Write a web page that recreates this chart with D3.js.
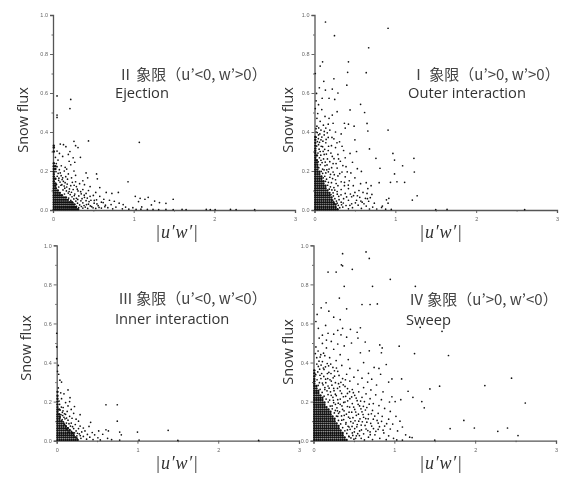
<!DOCTYPE html>
<html><head><meta charset="utf-8">
<script src="https://cdn.jsdelivr.net/npm/d3@7"></script>
<style>html,body{margin:0;background:#fff}svg{display:block;filter:blur(.4px)}</style></head>
<body><svg id="c" width="563" height="478"></svg>
<script>
const xTicks=[0,1,2,3];
const xMinor=[0.5,1.5,2.5];
const yTicks=[0,0.2,0.4,0.6,0.8,1.0];
const yMinor=[0.1,0.3,0.5,0.7,0.9];
const yLabel="Snow flux";
const xLabel="|u′w′|";

// Solid black core of each cloud, read row by row: [snow flux, [|u'w'| values]]
const q2Core=[
[.004,[.01,.035,.06,.085,.11,.135,.16,.185,.21,.235,.26,.285,.31]],
[.016,[.01,.035,.06,.085,.11,.135,.16,.185,.21,.235,.26,.285]],
[.028,[.01,.035,.06,.085,.11,.135,.16,.185,.21,.235,.26]],
[.04,[.01,.035,.06,.085,.11,.135,.16,.185,.21,.235]],
[.052,[.01,.035,.06,.085,.11,.135,.16,.185]],
[.064,[.01,.035,.06,.085,.11,.135,.16]],
[.076,[.01,.035,.06,.085,.11]],
[.088,[.01,.035,.06,.085]],
[.1,[.01,.035,.06]],
[.112,[.01,.035]],
[.124,[.01,.03]],
[.136,[.01,.03]],[.148,[.01]],[.16,[.01,.03]],[.172,[.01]],[.184,[.01]],[.196,[.01]],[.21,[.01,.03]],[.225,[.01,.03]],[.24,[.01]],[.3,[.01]],[.32,[.01]],[.33,[.01]]
];
const q2Scatter=[[.05,.585],[.05,.487],[.05,.475],[.22,.567],[.21,.52],[.44,.354],[.26,.352],[1.07,.347],[.93,.145],[.66,.09],[.73,.085],[.81,.09],[1.02,.07],[1.08,.06],[1.18,.065],[1.14,.055],[1.26,.046],[1.32,.038],[1.4,.034],[1.49,.055],[1.06,.043],[1.22,.026],[.99,.012],[1.1,.016],
[.09,.338],[.13,.335],[.16,.325],[.28,.33],[.31,.32],[.21,.3],[.05,.302],[.08,.29],[.12,.275],[.03,.27],[.19,.285],[.25,.268],[.34,.27],[.2,.25],[.27,.245],[.22,.232],[.05,.222],[.17,.21],[.09,.19],[.14,.2],[.19,.185],[.26,.2],[.28,.178],[.41,.19],[.54,.185],[.43,.165],[.55,.16],[.37,.15],[.39,.13],[.46,.12],[.58,.115],[.53,.09],[.18,.158],[.23,.165],[.12,.165],[.28,.145],[.07,.152],[.15,.14],[.33,.135],[.22,.125],[.11,.13],[.29,.12],[.17,.118],[.37,.105],[.44,.1],[.25,.105],[.31,.098],[.2,.095],[.5,.075],[.41,.085],[.35,.083],[.27,.082],[.46,.07],[.39,.065],[.32,.072],[.58,.07],[.63,.055],[.54,.052],[.47,.05],[.41,.048],[.36,.058],[.29,.06],[.7,.05],[.76,.045],[.6,.04],[.51,.035],[.44,.03],[.37,.037],[.82,.035],[.87,.028],[.72,.028],[.65,.025],[.56,.022],[.48,.017],[.4,.015],[.9,.015],[.78,.015],[.68,.012],[.6,.01],[.53,.008],[.43,.008],[.37,.01],[.74,.006],[.86,.006],[.94,.004],[1.03,.003],[1.09,.004],[1.17,.003],[1.24,.003],[1.31,.002],[1.4,.003],[1.49,.002],[1.6,.003],[1.65,.002],[1.9,.003],[1.95,.002],[2.01,.002],[2.2,.003],[2.27,.002],[2.5,.002]];
const q2Fringe=[[.043,.131],[.071,.118],[.098,.127],[.124,.103],[.146,.112],[.087,.143],[.113,.156],[.052,.173],[.166,.098],[.189,.087],[.142,.082],[.213,.079],[.236,.068],[.194,.061],[.258,.057],[.221,.049],[.283,.046],[.247,.038],[.304,.035],[.331,.026],[.272,.029],[.352,.018],[.318,.012],[.291,.019],[.385,.023],[.346,.047],[.307,.054],[.264,.074],[.229,.091],[.176,.133],[.204,.108],[.139,.123],[.064,.188],[.037,.197],[.079,.207],[.101,.176],[.129,.147],[.158,.171],[.041,.238],[.062,.256],[.103,.227],[.151,.219],[.073,.163],[.24,.142],[.262,.127],[.301,.107],[.343,.094],[.387,.076],[.425,.061],[.447,.043],[.415,.028],[.463,.021],[.512,.049],[.545,.031],[.497,.011],[.571,.013],[.622,.038],[.643,.017]];

const q1Core=[
[.004,[.01,.035,.06,.085,.11,.135,.16,.185,.21,.235,.26,.285]],
[.016,[.01,.035,.06,.085,.11,.135,.16,.185,.21,.235,.26]],
[.028,[.01,.035,.06,.085,.11,.135,.16,.185,.21,.235,.26]],
[.04,[.01,.035,.06,.085,.11,.135,.16,.185,.21,.235]],
[.052,[.01,.035,.06,.085,.11,.135,.16,.185,.21]],
[.064,[.01,.035,.06,.085,.11,.135,.16,.185,.21]],
[.076,[.01,.035,.06,.085,.11,.135,.16,.185]],
[.088,[.01,.035,.06,.085,.11,.135,.16,.185]],
[.1,[.01,.035,.06,.085,.11,.135,.16]],
[.112,[.01,.035,.06,.085,.11,.135]],
[.124,[.01,.035,.06,.085,.11,.135]],
[.136,[.01,.035,.06,.085,.11]],
[.148,[.01,.035,.06,.085,.11]],
[.16,[.01,.035,.06,.085]],
[.172,[.01,.035,.06,.085]],
[.184,[.01,.035,.06]],
[.196,[.01,.035,.06]],
[.208,[.01,.035]],[.22,[.01,.035]],[.232,[.01,.035]],[.244,[.01,.03]],[.256,[.01,.03]],[.268,[.01]],[.28,[.01,.03]],[.292,[.01]],[.304,[.01]],[.316,[.01]],[.33,[.01]],[.345,[.01]],[.36,[.01]],[.375,[.01]]
];
const q1Scatter=[[.136,.964],[.247,.894],[.91,.932],[.67,.832],[.1,.76],[.42,.76],[.07,.738],[.41,.706],[.64,.704],[.01,.7],[.24,.673],[.115,.66],[.4,.64],[.06,.627],[.22,.62],[.135,.615],[.29,.6],[.025,.598],[.095,.573],[.18,.573],[.25,.567],[.57,.542],[.44,.513],[.62,.5],[.28,.504],[.22,.487],[.65,.444],[.66,.405],[.91,.41],[.68,.313],[.97,.29],[.76,.265],[1.23,.265],[.99,.256],[1.09,.227],[.81,.214],[1.235,.195],[.99,.185],[.8,.14],[.94,.142],[1.02,.145],[1.115,.142],[1.27,.073],[1.21,.051],[.92,.06],[.84,.02],
[.02,.56],[.05,.54],[.01,.52],[.09,.515],[.04,.495],[.13,.48],[.18,.47],[.03,.47],[.07,.455],[.23,.445],[.17,.44],[.11,.435],[.37,.445],[.42,.44],[.49,.43],[.38,.42],[.03,.43],[.14,.42],[.08,.41],[.19,.41],[.26,.4],[.02,.4],[.33,.39],[.12,.385],[.05,.385],[.17,.372],[.24,.365],[.08,.36],[.31,.35],[.14,.345],[.05,.335],[.21,.33],[.1,.325],[.26,.32],[.5,.36],[.52,.3],[.36,.305],[.17,.305],[.07,.3],[.44,.29],[.29,.285],[.12,.285],[.22,.275],[.38,.268],[.16,.262],[.32,.25],[.08,.255],[.23,.238],[.47,.245],[.13,.228],[.39,.222],[.28,.215],[.18,.21],[.53,.212],[.58,.198],[.1,.21],[.34,.195],[.45,.19],[.23,.195],[.14,.19],[.29,.175],[.19,.168],[.38,.17],[.5,.165],[.26,.155],[.43,.15],[.33,.145],[.21,.14],[.64,.14],[.57,.135],[.48,.125],[.37,.125],[.29,.125],[.7,.125],[.66,.11],[.24,.115],[.42,.11],[.33,.105],[.55,.1],[.6,.09],[.5,.09],[.28,.095],[.38,.085],[.65,.085],[.23,.088],[.71,.08],[.3,.07],[.46,.068],[.56,.065],[.63,.06],[.69,.063],[.36,.058],[.42,.05],[.52,.05],[.89,.052],[.67,.045],[.59,.04],[.33,.04],[.28,.035],[.46,.032],[.74,.035],[.91,.035],[.54,.025],[.39,.023],[.64,.02],[.72,.015],[.83,.013],[.47,.012],[.35,.015],[.58,.008],[.42,.006],[.68,.005],[.77,.005],[.88,.004],[.95,.003],[1.5,.002],[1.64,.003],[2.6,.002]];
const q1Fringe=[[.053,.217],[.072,.232],[.046,.247],[.061,.268],[.094,.243],[.078,.281],[.043,.292],[.112,.262],[.057,.312],[.028,.328],[.083,.327],[.036,.351],[.062,.347],[.107,.301],[.126,.311],[.021,.373],[.048,.366],[.091,.374],[.034,.397],[.066,.39],[.019,.417],[.052,.421],[.104,.353],[.147,.287],[.133,.246],[.155,.231],[.118,.206],[.101,.188],[.083,.198],[.127,.173],[.149,.158],[.108,.165],[.172,.142],[.136,.147],[.197,.119],[.162,.127],[.215,.103],[.183,.107],[.233,.072],[.204,.079],[.252,.058],[.226,.051],[.271,.046],[.243,.033],[.294,.024],[.263,.014],[.312,.012],[.335,.027],[.356,.036],[.304,.053],[.328,.078],[.282,.081],[.251,.102],[.268,.136],[.224,.161],[.198,.183],[.245,.181],[.171,.196],[.212,.217],[.152,.206],[.189,.248],[.267,.238],[.241,.263],[.203,.292],[.174,.327],[.144,.362],[.121,.403],[.158,.396],[.216,.372],[.278,.345],[.341,.327],[.298,.262],[.351,.228],[.312,.187],[.405,.196],[.371,.142],[.418,.128],[.397,.067],[.444,.082],[.483,.074],[.438,.024],[.506,.037],[.531,.073],[.574,.046],[.612,.032],[.655,.058]];

const q3Core=[
[.004,[.01,.035,.06,.085,.11,.135,.16,.185,.21,.235,.26]],
[.016,[.01,.035,.06,.085,.11,.135,.16,.185,.21,.235]],
[.028,[.01,.035,.06,.085,.11,.135,.16,.185,.21]],
[.04,[.01,.035,.06,.085,.11,.135,.16,.185,.2]],
[.052,[.01,.035,.06,.085,.11,.135,.16]],
[.064,[.01,.035,.06,.085,.11,.135]],
[.076,[.01,.035,.06,.085,.11]],
[.088,[.01,.035,.06,.085]],
[.1,[.01,.035,.06]],
[.112,[.01,.035]],
[.124,[.01,.035]],
[.136,[.01,.03]],[.148,[.01]],[.16,[.01,.03]],[.172,[.01]],[.185,[.01]],[.2,[.01]],[.215,[.01]],[.23,[.01]],[.25,[.01]]
];
const q3Scatter=[[.61,.184],[.75,.184],[.75,.1],[1.38,.053],[1,.044],[.78,.044],[.8,.03],[.61,.056],[.64,.05],[.52,.05],[.42,.094],[.4,.073],[.33,.065],[.29,.133],[.27,.1],[.165,.22],[.06,.3],[.02,.385],[0,.55],[0,.48],[0,.42],
[.14,.26],[.04,.31],[.01,.355],[.025,.34],[.02,.27],[.05,.245],[.09,.24],[.16,.2],[.06,.215],[.11,.195],[.14,.178],[.22,.175],[.08,.17],[.18,.16],[.13,.15],[.07,.145],[.21,.14],[.11,.135],[.16,.125],[.09,.12],[.19,.115],[.24,.11],[.14,.105],[.12,.09],[.18,.09],[.23,.083],[.29,.075],[.17,.075],[.21,.062],[.27,.062],[.35,.05],[.24,.05],[.31,.045],[.44,.042],[.22,.04],[.28,.035],[.38,.032],[.47,.03],[.57,.033],[.25,.025],[.33,.022],[.41,.018],[.51,.015],[.63,.012],[.3,.012],[.37,.008],[.45,.006],[.54,.004],[.68,.006],[.78,.003],[1.02,.003],[1.5,.002],[2.5,.002]];
const q3Fringe=[[.043,.121],[.068,.108],[.052,.133],[.082,.097],[.097,.083],[.117,.073],[.074,.129],[.141,.066],[.103,.112],[.126,.058],[.162,.057],[.148,.044],[.183,.048],[.206,.027],[.224,.019],[.252,.013],[.044,.157],[.058,.172],[.036,.186],[.029,.203],[.078,.153],[.096,.138],[.122,.116],[.152,.087],[.196,.072],[.257,.038],[.292,.026]];

const q4Core=[
[.004,[.01,.035,.06,.085,.11,.135,.16,.185,.21,.235,.26,.285,.31,.335,.36,.385,.41]],
[.016,[.01,.035,.06,.085,.11,.135,.16,.185,.21,.235,.26,.285,.31,.335,.36,.385]],
[.028,[.01,.035,.06,.085,.11,.135,.16,.185,.21,.235,.26,.285,.31,.335,.36]],
[.04,[.01,.035,.06,.085,.11,.135,.16,.185,.21,.235,.26,.285,.31,.335,.36]],
[.052,[.01,.035,.06,.085,.11,.135,.16,.185,.21,.235,.26,.285,.31,.335]],
[.064,[.01,.035,.06,.085,.11,.135,.16,.185,.21,.235,.26,.285,.31]],
[.076,[.01,.035,.06,.085,.11,.135,.16,.185,.21,.235,.26,.285,.31]],
[.088,[.01,.035,.06,.085,.11,.135,.16,.185,.21,.235,.26,.285]],
[.1,[.01,.035,.06,.085,.11,.135,.16,.185,.21,.235,.26]],
[.112,[.01,.035,.06,.085,.11,.135,.16,.185,.21,.235,.26]],
[.124,[.01,.035,.06,.085,.11,.135,.16,.185,.21,.235]],
[.136,[.01,.035,.06,.085,.11,.135,.16,.185,.21]],
[.148,[.01,.035,.06,.085,.11,.135,.16,.185,.21]],
[.16,[.01,.035,.06,.085,.11,.135,.16,.185]],
[.172,[.01,.035,.06,.085,.11,.135,.16]],
[.184,[.01,.035,.06,.085,.11,.135]],
[.196,[.01,.035,.06,.085,.11,.135]],
[.208,[.01,.035,.06,.085,.11]],
[.22,[.01,.035,.06,.085,.11]],
[.232,[.01,.035,.06,.085]],
[.244,[.01,.035,.06]],
[.256,[.01,.035,.06]],
[.268,[.01,.035]],
[.28,[.01,.035]],[.292,[.01]],[.304,[.01]],[.316,[.01]],[.33,[.01]],[.345,[.01]],[.36,[.01]]
];
const q4Scatter=[[.36,.957],[.65,.966],[.69,.933],[.345,.9],[.36,.895],[.48,.877],[.18,.863],[.28,.863],[.95,.826],[1.26,.79],[.73,.79],[.38,.79],[.32,.73],[.156,.706],[.095,.68],[.19,.663],[.41,.675],[.6,.697],[.7,.697],[.79,.7],[.045,.646],[.25,.632],[.33,.62],[.457,.57],[.58,.578],[.54,.555],[1.32,.58],[1.59,.56],[1.67,.436],[1.06,.484],[1.25,.446],[2.45,.32],[2.12,.282],[1.56,.279],[1.44,.265],[1.17,.253],[1.23,.222],[1.34,.2],[1.37,.168],[2.62,.193],[1.86,.104],[1.69,.062],[1.99,.065],[2.28,.048],[2.4,.065],[2.53,.026],[.97,.316],[1.09,.316],[.03,.61],[.15,.59],[.3,.565],[.36,.575],
[.06,.575],[.11,.54],[.18,.55],[.25,.545],[.34,.542],[.41,.53],[.55,.525],[.07,.525],[.16,.515],[.22,.508],[.3,.495],[.47,.5],[.11,.498],[.38,.485],[.64,.505],[.82,.49],[.85,.475],[.03,.48],[.16,.475],[.25,.468],[.69,.46],[.58,.45],[.84,.45],[.09,.44],[.14,.435],[.33,.44],[.2,.425],[.04,.425],[.43,.415],[.28,.41],[.11,.405],[.62,.4],[.9,.39],[.17,.395],[.35,.385],[.06,.38],[.24,.375],[.45,.37],[.75,.375],[.81,.37],[.13,.365],[.55,.36],[.3,.355],[.68,.345],[.19,.35],[.41,.34],[.83,.34],[.08,.335],[.26,.33],[.5,.325],[.6,.32],[.36,.318],[.15,.315],[.72,.315],[.93,.3],[.22,.305],[.45,.305],[.67,.3],[.31,.292],[.55,.29],[.11,.295],[.78,.285],[.39,.278],[.18,.28],[.25,.268],[.62,.272],[.48,.262],[.71,.26],[.14,.262],[.33,.255],[.56,.25],[.86,.25],[.21,.25],[.42,.242],[.27,.238],[.65,.24],[.77,.235],[.51,.232],[.18,.236],[.37,.225],[.6,.222],[.97,.225],[.24,.222],[.45,.215],[.7,.215],[.84,.21],[1.08,.21],[.3,.21],[.54,.205],[.2,.208],[.63,.2],[.39,.198],[.94,.198],[1.01,.2],[.25,.195],[.48,.19],[.74,.19],[.33,.186],[.81,.18],[.57,.178],[.23,.178],[.42,.175],[.66,.17],[.29,.168],[.88,.165],[.36,.16],[.51,.16],[.73,.155],[.95,.15],[.27,.155],[.6,.148],[.44,.146],[.31,.14],[.8,.14],[.68,.135],[.53,.13],[.38,.13],[1.02,.125],[.85,.125],[.3,.125],[.62,.12],[.45,.115],[.74,.11],[.93,.11],[.35,.105],[.56,.1],[1.07,.1],[.66,.095],[.49,.09],[.8,.09],[.4,.085],[.98,.085],[.59,.08],[.72,.075],[.88,.075],[.44,.07],[1.1,.07],[.51,.062],[.65,.06],[.8,.058],[.95,.06],[.42,.055],[.57,.05],[.7,.045],[1.04,.05],[.87,.04],[.48,.04],[.62,.035],[.76,.03],[1.14,.03],[.53,.025],[.93,.025],[.44,.02],[.68,.018],[1.19,.018],[1.22,.016],[.59,.012],[.82,.012],[.99,.012],[.5,.008],[.73,.006],[.9,.005],[.63,.004],[1.03,.004],[1.1,.003],[1.5,.003]];
const q4Fringe=[[.082,.263],[.107,.247],[.131,.228],[.156,.213],[.183,.198],[.207,.177],[.232,.163],[.258,.142],[.284,.126],[.309,.104],[.336,.086],[.361,.067],[.388,.051],[.412,.037],[.437,.023],[.463,.014],[.486,.027],[.521,.012],[.547,.036],[.058,.283],[.073,.297],[.044,.312],[.092,.318],[.118,.286],[.141,.272],[.167,.255],[.193,.269],[.219,.232],[.246,.207],[.271,.186],[.296,.153],[.323,.148],[.347,.127],[.373,.108],[.402,.093],[.428,.074],[.453,.058],[.477,.073],[.505,.045],[.536,.071],[.568,.026],[.593,.055],[.028,.338],[.053,.352],[.076,.366],[.101,.344],[.127,.329],[.152,.297],[.172,.344],[.204,.312],[.228,.284],[.254,.256],[.282,.231],[.306,.192],[.331,.213],[.352,.178],[.378,.153],[.407,.136],[.433,.121],[.461,.098],[.488,.118],[.514,.102],[.541,.083],[.575,.112],[.604,.097],[.638,.078],[.672,.052],[.702,.031],[.041,.392],[.068,.407],[.094,.387],[.122,.372],[.148,.378],[.176,.318],[.216,.344],[.243,.322],[.271,.297],[.297,.268],[.323,.276],[.348,.242],[.374,.196],[.398,.227],[.423,.204],[.447,.172],[.473,.146],[.497,.172],[.522,.147],[.556,.136],[.587,.163],[.613,.134],[.646,.113],[.677,.112],[.708,.089],[.742,.062],[.771,.048],[.023,.446],[.057,.459],[.082,.428],[.124,.448],[.187,.383],[.213,.392],[.259,.358],[.284,.372],[.316,.334],[.339,.299],[.368,.286],[.395,.312],[.421,.267],[.446,.251],[.472,.224],[.493,.246],[.528,.218],[.552,.186],[.583,.203],[.617,.176],[.642,.157],[.689,.187],[.716,.138],[.758,.126],[.787,.104],[.816,.072],[.842,.099],[.861,.054],[.905,.087]];

const titles2=["Ⅱ 象限（u’<0, w’>0）","Ejection"];
const titles1=["Ⅰ 象限（u’>0, w’>0）","Outer interaction"];
const titles3=["Ⅲ 象限（u’<0, w’<0）","Inner interaction"];
const titles4=["Ⅳ 象限（u’>0, w’<0）","Sweep"];

const panels=[
 {core:q2Core,pts:q2Scatter.concat(q2Fringe),t:titles2,x0:53,x3:295,yb:210,yt:15,tx:118,ty:[80,98],yx:22,yy:120,lx:177},
 {core:q1Core,pts:q1Scatter.concat(q1Fringe),t:titles1,x0:314.5,x3:557,yb:210,yt:15,tx:411,ty:[80,98],yx:287,yy:120,lx:441},
 {core:q3Core,pts:q3Scatter.concat(q3Fringe),t:titles3,x0:56.7,x3:299,yb:440.7,yt:245.3,tx:118,ty:[304,324],yx:25,yy:348,lx:177},
 {core:q4Core,pts:q4Scatter.concat(q4Fringe),t:titles4,x0:313.5,x3:556,yb:440.7,yt:245.3,tx:409,ty:[305,325],yx:287,yy:352,lx:441}
];
const ink="#555";
const svg=d3.select("#c");
const labelFont="'Open Sans','Noto Sans',sans-serif";
panels.forEach(p=>{
 const x=d3.scaleLinear().domain([0,3]).range([p.x0,p.x3]);
 const y=d3.scaleLinear().domain([0,1]).range([p.yb,p.yt]);
 const g=svg.append("g");
 g.append("g").attr("transform",`translate(0,${p.yb})`)
   .call(d3.axisBottom(x).tickValues(xTicks).tickSize(3).tickPadding(4).tickFormat(d3.format("d")));
 g.append("g").attr("transform",`translate(${p.x0},0)`)
   .call(d3.axisLeft(y).tickValues(yTicks).tickSize(3).tickPadding(2).tickFormat(d3.format(".1f")));
 g.append("g").attr("transform",`translate(0,${p.yb})`)
   .call(d3.axisBottom(x).tickValues(xMinor).tickSize(1.5).tickFormat("")).select(".domain").remove();
 g.append("g").attr("transform",`translate(${p.x0},0)`)
   .call(d3.axisLeft(y).tickValues(yMinor).tickSize(1.5).tickFormat("")).select(".domain").remove();
 g.selectAll(".domain").attr("stroke",ink).attr("stroke-width",1.3);
 g.selectAll(".tick line").attr("stroke",ink).attr("stroke-width",.9);
 g.selectAll(".tick text").attr("fill","#666").attr("font-size",5.5).attr("font-family","'Liberation Sans',sans-serif");
 const corePts=p.core.flatMap(([fy,xs])=>xs.map(fx=>[fx,fy]));
 g.append("g").selectAll("circle").data(corePts).join("circle")
   .attr("cx",d=>x(d[0])).attr("cy",d=>y(d[1])).attr("r",1.2).attr("fill","#111");
 g.append("g").selectAll("circle").data(p.pts).join("circle")
   .attr("cx",d=>x(d[0])).attr("cy",d=>y(d[1])).attr("r",.85).attr("fill","#111");
 g.append("text").attr("transform",`translate(${p.yx},${p.yy}) rotate(-90)`).attr("text-anchor","middle")
   .attr("dominant-baseline","central").attr("font-family",labelFont).attr("font-size",14.5).attr("fill","#333").text(yLabel);
 g.append("text").attr("x",p.lx).attr("y",p.yb+28).attr("text-anchor","middle").attr("font-family","'Liberation Serif',serif")
   .attr("font-style","italic").attr("font-size",18).attr("letter-spacing",.8).attr("fill","#333").text(xLabel);
 g.append("text").attr("x",p.tx).attr("y",p.ty[0]).attr("font-family","'Noto Sans CJK JP',sans-serif").attr("font-size",15).attr("fill","#444").text(p.t[0]);
 g.append("text").attr("x",p.tx-3).attr("y",p.ty[1]).attr("font-family",labelFont).attr("font-size",14.7).attr("fill","#333").text(p.t[1]);
});
</script></body></html>
